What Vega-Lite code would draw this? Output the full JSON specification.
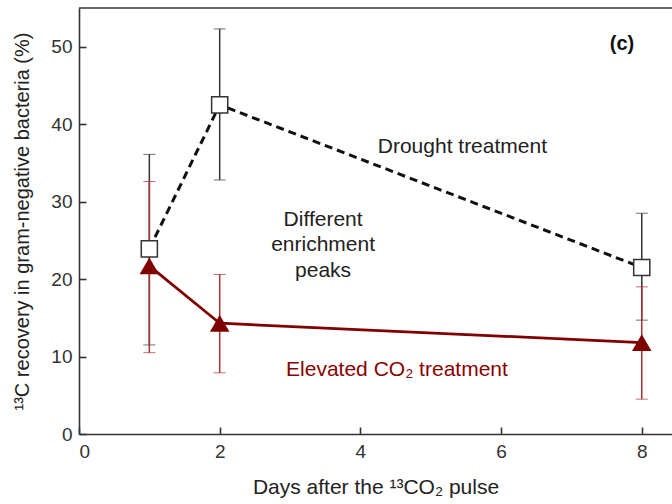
{
  "$schema": "https://vega.github.io/schema/vega-lite/v6.json",
  "width": 593,
  "height": 426,
  "autosize": {"type": "none"},
  "padding": {"left": 79, "top": 8, "right": 0, "bottom": 70},
  "config": {
    "view": {"stroke": null},
    "font": "Liberation Sans"
  },
  "datasets": {
    "series": [
      {"day": 1, "value": 23.9, "lo": 11.5, "hi": 36.1, "treatment": "Drought"},
      {"day": 2, "value": 42.5, "lo": 32.8, "hi": 52.3, "treatment": "Drought"},
      {"day": 8, "value": 21.5, "lo": 14.7, "hi": 28.5, "treatment": "Drought"},
      {"day": 1, "value": 21.7, "lo": 10.5, "hi": 32.6, "treatment": "Elevated CO2"},
      {"day": 2, "value": 14.3, "lo": 7.9, "hi": 20.6, "treatment": "Elevated CO2"},
      {"day": 8, "value": 11.8, "lo": 4.5, "hi": 19.0, "treatment": "Elevated CO2"}
    ],
    "labels": [
      {"x": 5.45, "y": 37.1, "text": "Drought treatment", "kind": "black"},
      {"x": 3.47, "y": 27.6, "text": "Different", "kind": "black"},
      {"x": 3.47, "y": 24.4, "text": "enrichment", "kind": "black"},
      {"x": 3.47, "y": 21.1, "text": "peaks", "kind": "black"},
      {"x": 4.52, "y": 8.3, "text": "Elevated CO₂ treatment", "kind": "red"}
    ]
  },
  "layer": [
    {
      "data": {"values": [{"top": 55}]},
      "mark": {"type": "rule", "color": "#333333", "strokeWidth": 1.6},
      "encoding": {"y": {"field": "top", "type": "quantitative", "title": "¹³C recovery in gram-negative bacteria (%)",
        "scale": {"domain": [0, 55], "nice": false},
        "axis": {"values": [0, 10, 20, 30, 40, 50], "format": "d", "grid": false, "domainColor": "#333333", "domainWidth": 1.6, "tickColor": "#333333", "tickWidth": 1.6, "tickSize": -7, "labelPadding": 14, "labelFont": "Liberation Sans", "labelFontSize": 19, "labelColor": "#333333", "titleFont": "Liberation Sans", "titleFontSize": 20, "titleFontWeight": "normal", "titleColor": "#222222", "titlePadding": 18}}}
    },
    {
      "data": {"name": "series"},
      "transform": [{"filter": "datum.treatment == 'Drought'"}],
      "mark": {"type": "errorbar", "ticks": {"size": 12, "color": "#333333", "strokeWidth": 1.5}, "rule": {"color": "#333333", "strokeWidth": 1.5}},
      "encoding": {
        "x": {"field": "day", "type": "quantitative", "title": "Days after the ¹³CO₂ pulse",
          "scale": {"domain": [0, 8.43], "nice": false},
          "axis": {"values": [0, 2, 4, 6, 8], "format": "d", "grid": false, "domainColor": "#333333", "domainWidth": 1.6, "tickColor": "#333333", "tickWidth": 1.6, "tickSize": -7, "labelPadding": 15, "labelFont": "Liberation Sans", "labelFontSize": 19, "labelColor": "#333333", "titleFont": "Liberation Sans", "titleFontSize": 21, "titleFontWeight": "normal", "titleColor": "#222222", "titlePadding": 15}},
        "y": {"field": "lo", "type": "quantitative", "title": "¹³C recovery in gram-negative bacteria (%)"},
        "y2": {"field": "hi"}
      }
    },
    {
      "data": {"name": "series"},
      "transform": [{"filter": "datum.treatment == 'Elevated CO2'"}],
      "mark": {"type": "errorbar", "ticks": {"size": 12, "color": "#a83232", "strokeWidth": 1.5}, "rule": {"color": "#a83232", "strokeWidth": 1.5}},
      "encoding": {
        "x": {"field": "day", "type": "quantitative", "title": "Days after the ¹³CO₂ pulse"},
        "y": {"field": "lo", "type": "quantitative", "title": "¹³C recovery in gram-negative bacteria (%)"},
        "y2": {"field": "hi"}
      }
    },
    {
      "data": {"name": "series"},
      "transform": [{"filter": "datum.treatment == 'Drought'"}],
      "mark": {"type": "line", "color": "#111111", "strokeWidth": 3, "strokeDash": [8, 5]},
      "encoding": {
        "x": {"field": "day", "type": "quantitative", "title": "Days after the ¹³CO₂ pulse"},
        "y": {"field": "value", "type": "quantitative", "title": "¹³C recovery in gram-negative bacteria (%)"}
      }
    },
    {
      "data": {"name": "series"},
      "transform": [{"filter": "datum.treatment == 'Elevated CO2'"}],
      "mark": {"type": "line", "color": "#800000", "strokeWidth": 2.8},
      "encoding": {
        "x": {"field": "day", "type": "quantitative", "title": "Days after the ¹³CO₂ pulse"},
        "y": {"field": "value", "type": "quantitative", "title": "¹³C recovery in gram-negative bacteria (%)"}
      }
    },
    {
      "data": {"name": "series"},
      "transform": [{"filter": "datum.treatment == 'Drought'"}],
      "mark": {"type": "point", "shape": "square", "size": 260, "filled": true, "fill": "white", "stroke": "#333333", "strokeWidth": 1.5, "opacity": 1},
      "encoding": {
        "x": {"field": "day", "type": "quantitative", "title": "Days after the ¹³CO₂ pulse"},
        "y": {"field": "value", "type": "quantitative", "title": "¹³C recovery in gram-negative bacteria (%)"}
      }
    },
    {
      "data": {"name": "series"},
      "transform": [{"filter": "datum.treatment == 'Elevated CO2'"}],
      "mark": {"type": "point", "shape": "triangle-up", "size": 380, "filled": true, "color": "#800000", "opacity": 1},
      "encoding": {
        "x": {"field": "day", "type": "quantitative", "title": "Days after the ¹³CO₂ pulse"},
        "y": {"field": "value", "type": "quantitative", "title": "¹³C recovery in gram-negative bacteria (%)"}
      }
    },
    {
      "data": {"name": "labels"},
      "mark": {"type": "text", "fontSize": 21, "font": "Liberation Sans"},
      "encoding": {
        "x": {"field": "x", "type": "quantitative", "title": "Days after the ¹³CO₂ pulse"},
        "y": {"field": "y", "type": "quantitative", "title": "¹³C recovery in gram-negative bacteria (%)"},
        "text": {"field": "text"},
        "color": {"field": "kind", "type": "nominal", "scale": {"domain": ["black", "red"], "range": ["#222222", "#8b0000"]}, "legend": null}
      }
    },
    {
      "data": {"values": [{"x": 7.72, "y": 50.4, "text": "(c)"}]},
      "mark": {"type": "text", "fontSize": 20, "fontWeight": "bold", "font": "Liberation Sans", "color": "#111111"},
      "encoding": {
        "x": {"field": "x", "type": "quantitative", "title": "Days after the ¹³CO₂ pulse"},
        "y": {"field": "y", "type": "quantitative", "title": "¹³C recovery in gram-negative bacteria (%)"},
        "text": {"field": "text"}
      }
    }
  ]
}
